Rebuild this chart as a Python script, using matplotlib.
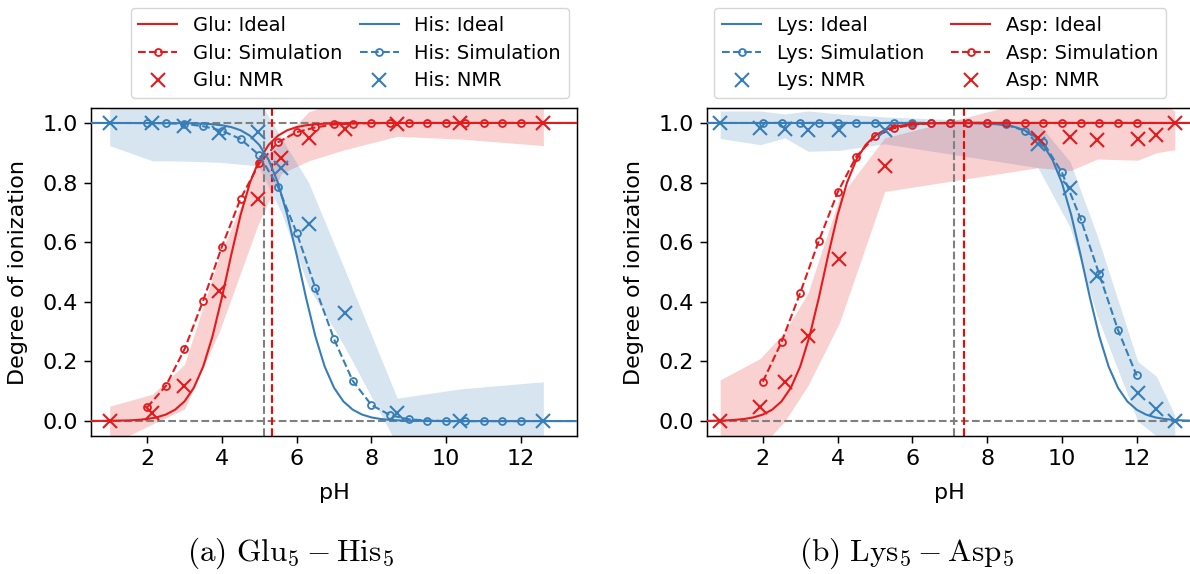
import numpy as np
import matplotlib
matplotlib.use('Agg')
import matplotlib.pyplot as plt

plt.rcParams['font.size'] = 16
plt.rcParams['mathtext.fontset'] = 'cm'
plt.rcParams['axes.linewidth'] = 1.07
for ax_name in ['xtick', 'ytick']:
    plt.rcParams[ax_name + '.major.size'] = 4.7
    plt.rcParams[ax_name + '.major.width'] = 1.07
    plt.rcParams[ax_name + '.major.pad'] = 4.7

red = '#e41a1c'
blue = '#377eb8'

# ---------------- panel (a): Glu5 - His5 ----------------
glu_ideal_ph = [0.5, 1.5, 1.75, 2.0, 2.25, 2.5, 2.75, 3.0, 3.25, 3.5, 3.75, 4.0, 4.25, 4.5,
                4.75, 5.0, 5.25, 5.5, 5.75, 6.0, 6.25, 6.5, 6.75, 7.0, 8.0, 13.5]
glu_ideal = [0.0002, 0.0022, 0.0040, 0.0070, 0.0124, 0.0219, 0.0383, 0.0661, 0.1118, 0.1829,
             0.2847, 0.4144, 0.5573, 0.6912, 0.7992, 0.8762, 0.9264, 0.9572, 0.9755, 0.9861,
             0.9921, 0.9956, 0.9975, 0.9986, 0.9999, 1.0]
his_ideal_ph = [0.5, 3.0, 3.25, 3.5, 3.75, 4.0, 4.25, 4.5, 4.75, 5.0, 5.25, 5.5, 5.75, 6.0,
                6.25, 6.5, 6.75, 7.0, 7.25, 7.5, 7.75, 8.0, 8.25, 8.5, 8.75, 9.0, 10.0, 13.5]
his_ideal = [1.0, 0.9992, 0.9986, 0.9975, 0.9956, 0.9921, 0.9861, 0.9755, 0.9572, 0.9264,
             0.8762, 0.7992, 0.6912, 0.5573, 0.4144, 0.2847, 0.1829, 0.1118, 0.0661, 0.0383,
             0.0219, 0.0124, 0.0070, 0.0040, 0.0022, 0.0013, 0.0001, 0.0]

sim_ph = [2.0, 2.5, 3.0, 3.5, 4.0, 4.5, 5.0, 5.5, 6.0, 6.5, 7.0, 7.5, 8.0, 8.5, 9.0, 9.5,
          10.0, 10.5, 11.0, 11.5, 12.0]
glu_sim = [0.046, 0.118, 0.241, 0.404, 0.585, 0.746, 0.864, 0.935, 0.969, 0.985, 0.995, 0.998,
           0.999, 1.0, 1.0, 1.0, 1.0, 1.0, 1.0, 1.0, 1.0]
his_sim = [1.0, 0.999, 0.997, 0.989, 0.974, 0.946, 0.892, 0.786, 0.632, 0.447, 0.275, 0.135,
           0.054, 0.020, 0.006, 0.002, 0.0, 0.0, 0.0, 0.0, 0.0]

nmr_ph_a = [1.0, 2.14, 3.0, 3.93, 4.97, 5.59, 6.32, 7.28, 8.69, 10.38, 12.6]
glu_nmr = [0.0, 0.026, 0.118, 0.435, 0.744, 0.884, 0.948, 0.98, 0.997, 1.0, 1.0]
his_nmr = [1.0, 1.0, 0.991, 0.965, 0.969, 0.85, 0.66, 0.363, 0.028, 0.001, 0.0]
glu_lo = [-0.08, -0.01, 0.04, 0.30, 0.66, 0.83, 0.873, 0.91, 0.955, 0.946, 0.924]
glu_hi = [0.05, 0.09, 0.19, 0.55, 0.86, 0.94, 1.037, 1.08, 1.08, 1.08, 1.08]
his_lo = [0.924, 0.873, 0.872, 0.868, 0.856, 0.70, 0.45, 0.25, -0.08, -0.08, -0.08]
his_hi = [1.08, 1.08, 1.08, 1.08, 1.08, 0.95, 0.80, 0.51, 0.077, 0.108, 0.132]

pi_ideal_a = 5.13
pi_sim_a = 5.34

# ---------------- panel (b): Lys5 - Asp5 ----------------
lys_ideal_ph = [0.5, 7.0, 7.5, 7.75, 8.0, 8.25, 8.5, 8.75, 9.0, 9.25, 9.5, 9.75, 10.0, 10.25,
                10.5, 10.75, 11.0, 11.25, 11.5, 11.75, 12.0, 12.25, 12.5, 12.75, 13.0, 13.25, 13.5]
lys_ideal = [1.0, 0.9997, 0.9992, 0.9986, 0.9975, 0.9956, 0.9921, 0.9861, 0.9755, 0.9572,
             0.9264, 0.8762, 0.7992, 0.6912, 0.5573, 0.4144, 0.2847, 0.1829, 0.1118, 0.0661,
             0.0383, 0.0219, 0.0124, 0.0070, 0.0040, 0.0022, 0.0013]
asp_ideal_ph = [0.5, 0.75, 1.0, 1.25, 1.5, 1.75, 2.0, 2.25, 2.5, 2.75, 3.0, 3.25, 3.5, 3.75,
                4.0, 4.25, 4.5, 4.75, 5.0, 5.25, 5.5, 5.75, 6.0, 6.25, 6.5, 7.5, 13.5]
asp_ideal = [0.0007, 0.0013, 0.0022, 0.0040, 0.0070, 0.0124, 0.0219, 0.0383, 0.0661, 0.1118,
             0.1829, 0.2847, 0.4144, 0.5573, 0.6912, 0.7992, 0.8762, 0.9264, 0.9572, 0.9755,
             0.9861, 0.9921, 0.9956, 0.9975, 0.9986, 0.9999, 1.0]

lys_sim = [1.0, 1.0, 1.0, 1.0, 1.0, 1.0, 1.0, 1.0, 1.0, 1.0, 1.0, 1.0, 1.0, 0.995, 0.974,
           0.935, 0.834, 0.679, 0.492, 0.306, 0.153]
asp_sim = [0.132, 0.265, 0.43, 0.605, 0.767, 0.887, 0.955, 0.982, 0.994, 0.999, 1.0, 1.0,
           1.0, 1.0, 1.0, 1.0, 1.0, 1.0, 1.0, 1.0, 1.0]

nmr_ph_b = [0.86, 1.93, 2.59, 3.21, 4.05, 5.26, 9.36, 10.22, 10.95, 12.03, 12.53, 13.02]
lys_nmr = [1.0, 0.983, 0.98, 0.977, 0.977, 0.977, 0.93, 0.783, 0.486, 0.093, 0.039, 0.001]
asp_nmr = [0.0, 0.046, 0.132, 0.286, 0.542, 0.856, 0.948, 0.954, 0.944, 0.946, 0.96, 1.0]
lys_lo = [0.948, 0.927, 0.95, 0.905, 0.908, 0.93, 0.85, 0.65, 0.35, 0.0, -0.05, -0.08]
lys_hi = [1.04, 1.04, 1.03, 1.04, 1.03, 1.02, 1.0, 0.87, 0.62, 0.2, 0.15, 0.02]
asp_lo = [-0.1, -0.09, 0.0, 0.12, 0.33, 0.77, 0.85, 0.84, 0.879, 0.875, 0.9, 0.91]
asp_hi = [0.138, 0.21, 0.30, 0.43, 0.75, 0.95, 1.08, 1.08, 1.08, 1.08, 1.08, 1.04]

pi_ideal_b = 7.12
pi_sim_b = 7.37


def draw(ax, names, colors, ideal, sims, nmrs, bands, nmr_ph, pi_ideal, pi_sim):
    ax.axhline(0, color='grey', ls='--', lw=1.5, zorder=1)
    ax.axhline(1, color='grey', ls='--', lw=1.5, zorder=1)
    for name, c, (ip, iv), sv, nv, (lo, hi) in zip(names, colors, ideal, sims, nmrs, bands):
        ax.fill_between(nmr_ph, lo, hi, color=c, alpha=0.2, lw=0, zorder=0)
        ax.plot(ip, iv, '-', color=c, lw=1.5, label=name + ': Ideal', zorder=3)
        ax.plot(sim_ph, sv, '--o', color=c, lw=1.5, ms=5, mfc='none', mew=1.3,
                label=name + ': Simulation', zorder=3)
        ax.plot(nmr_ph, nv, 'x', color=c, ms=10, mew=1.5, label=name + ': NMR', zorder=4)
    ax.axvline(pi_ideal, color='grey', ls='--', lw=1.5, zorder=2)
    ax.axvline(pi_sim, color='red', ls='--', lw=1.5, zorder=2)
    ax.set_xlim(0.5, 13.5)
    ax.set_ylim(-0.05, 1.05)
    ax.set_xticks([2, 4, 6, 8, 10, 12])
    ax.set_yticks([0.0, 0.2, 0.4, 0.6, 0.8, 1.0])
    ax.set_xlabel('pH', fontsize=16)
    ax.set_ylabel('Degree of ionization', fontsize=16)
    ax.xaxis.set_label_coords(0.5, -0.143)
    ax.yaxis.set_label_coords(-0.13, 0.5)


fig = plt.figure(figsize=(11.9, 5.74), dpi=100)
ax1 = fig.add_axes([0.0765, 0.2404, 0.4084, 0.5714])
ax2 = fig.add_axes([0.5939, 0.2404, 0.4084, 0.5714])

draw(ax1, ['Glu', 'His'], [red, blue],
     [(glu_ideal_ph, glu_ideal), (his_ideal_ph, his_ideal)],
     [glu_sim, his_sim], [glu_nmr, his_nmr],
     [(glu_lo, glu_hi), (his_lo, his_hi)], nmr_ph_a, pi_ideal_a, pi_sim_a)
draw(ax2, ['Lys', 'Asp'], [blue, red],
     [(lys_ideal_ph, lys_ideal), (asp_ideal_ph, asp_ideal)],
     [lys_sim, asp_sim], [lys_nmr, asp_nmr],
     [(lys_lo, lys_hi), (asp_lo, asp_hi)], nmr_ph_b, pi_ideal_b, pi_sim_b)

ax1.legend(ncol=2, loc='lower center', bbox_to_anchor=(0.532, 1.03), borderaxespad=0,
           fontsize=14, handlelength=2.0, columnspacing=0.9, labelspacing=0.45)
ax2.legend(ncol=2, loc='lower center', bbox_to_anchor=(0.48, 1.03), borderaxespad=0,
           fontsize=14, handlelength=2.0, columnspacing=1.4, labelspacing=0.45)

fig.text(0.244, 0.037, r'$\mathrm{(a)\ Glu_5 - His_5}$', ha='center', va='center',
         fontsize=22.5)
fig.text(0.762, 0.037, r'$\mathrm{(b)\ Lys_5 - Asp_5}$', ha='center', va='center',
         fontsize=22.5)

fig.savefig('out.png', dpi=100)
